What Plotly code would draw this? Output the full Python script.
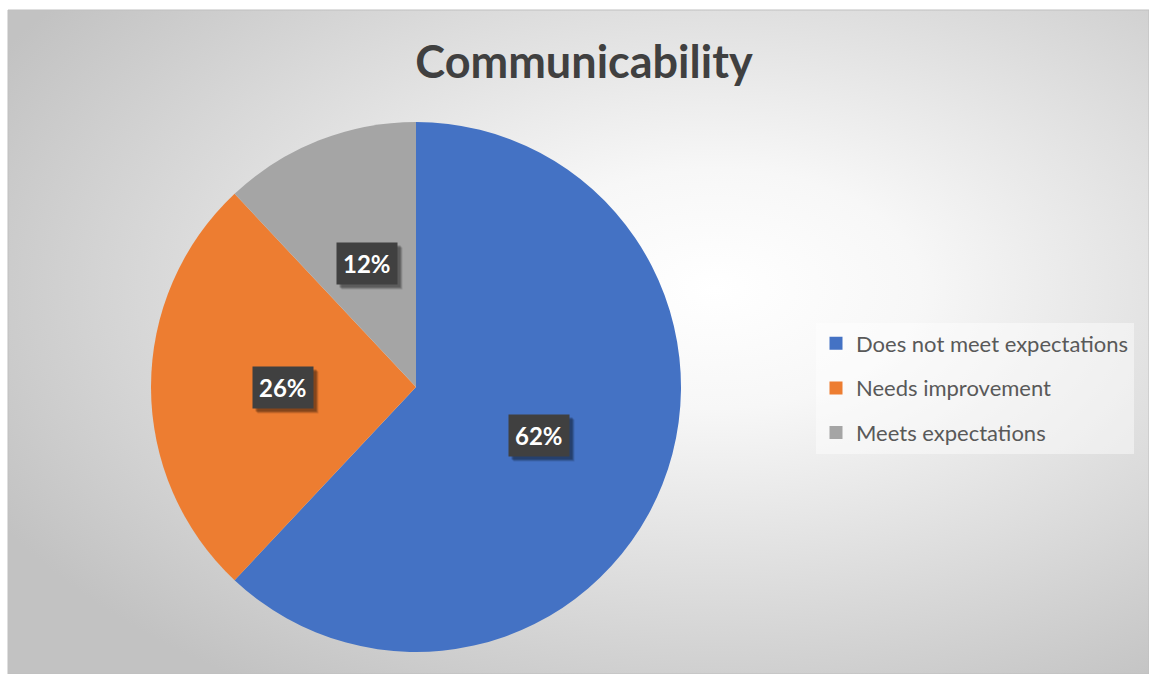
import base64
import math
import plotly.graph_objects as go

# Survey results for the "Communicability" criterion
categories = ["Does not meet expectations", "Needs improvement", "Meets expectations"]
shares = [62, 26, 12]
colors = ["#4472C4", "#ED7D31", "#A5A5A5"]
title_text = "Communicability"

W, H = 1149, 674

# Pie domain in paper coordinates
dom_x = [151 / W, 681 / W]
dom_y = [(H - 652) / H, (H - 122) / H]

fig = go.Figure()

fig.add_trace(go.Pie(
    labels=categories,
    values=shares,
    marker=dict(colors=colors, line=dict(width=0)),
    sort=False,
    direction="clockwise",
    rotation=0,
    textinfo="none",
    hoverinfo="label+percent",
    showlegend=False,
    domain=dict(x=dom_x, y=dom_y),
))

# Legend proxies, one group each so the rows can be spaced out
for i, (name, col) in enumerate(zip(categories, colors)):
    fig.add_trace(go.Scatter(
        x=[None], y=[None], mode="markers", name=name,
        legendgroup=f"g{i}",
        marker=dict(symbol="square", size=13, color=col),
        hoverinfo="skip",
    ))

# Radial background gradient for the chart area
svg = (
    '<svg xmlns="http://www.w3.org/2000/svg" width="1141" height="664" '
    'preserveAspectRatio="none">'
    '<defs><radialGradient id="g" cx="0.62" cy="0.42" r="0.72" '
    'gradientUnits="objectBoundingBox">'
    '<stop offset="0" stop-color="#ffffff"/>'
    '<stop offset="0.25" stop-color="#f7f7f7"/>'
    '<stop offset="1" stop-color="#c2c2c2"/>'
    '</radialGradient></defs>'
    '<rect width="1141" height="664" fill="url(#g)"/></svg>'
)
src = "data:image/svg+xml;base64," + base64.b64encode(svg.encode()).decode()
fig.add_layout_image(dict(
    source=src, xref="paper", yref="paper",
    x=8 / W, y=1 - 10 / H, sizex=1 - 8 / W, sizey=1 - 10 / H,
    xanchor="left", yanchor="top", sizing="stretch", layer="below",
))

# Data labels placed at half radius along each slice's mid-angle
cx = (dom_x[0] + dom_x[1]) / 2
cy = (dom_y[0] + dom_y[1]) / 2
r_px = min((dom_x[1] - dom_x[0]) * W, (dom_y[1] - dom_y[0]) * H) / 2
total = sum(shares)
start = 0.0
annotations = []
for v in shares:
    frac = v / total
    mid = (start + frac / 2) * 2 * math.pi
    start += frac
    dx = 0.5 * r_px * math.sin(mid)
    dy = 0.5 * r_px * math.cos(mid)
    ax = cx + dx / W
    ay = cy + dy / H
    label = f"{v}%"
    # soft shadow behind the box
    for off, alpha in ((5, 0.12), (4, 0.18), (3, 0.22)):
        annotations.append(dict(
            x=ax, y=ay, xref="paper", yref="paper", showarrow=False,
            xanchor="center", yanchor="middle",
            text=f"<b>{label}</b>", xshift=off, yshift=-off,
            font=dict(family="Lato", size=24, color="rgba(0,0,0,0)"),
            bgcolor=f"rgba(0,0,0,{alpha})", borderpad=6,
        ))
    annotations.append(dict(
        x=ax, y=ay, xref="paper", yref="paper", showarrow=False,
        xanchor="center", yanchor="middle",
        text=f"<b>{label}</b>",
        font=dict(family="Lato", size=24, color="#ffffff"),
        bgcolor="#404040", borderpad=6,
    ))

fig.update_layout(
    width=W, height=H,
    margin=dict(l=0, r=0, t=0, b=0),
    paper_bgcolor="#ffffff",
    plot_bgcolor="rgba(0,0,0,0)",
    xaxis=dict(visible=False, domain=[0.99, 1.0]),
    yaxis=dict(visible=False, domain=[0.99, 1.0]),
    title=dict(
        text=f"<b>{title_text}</b>",
        x=584 / W, xanchor="center", y=1 - 62 / H, yanchor="middle",
        font=dict(family="Lato", size=45, color="#404040"),
    ),
    legend=dict(
        x=816 / W, xanchor="left", y=1 - 388 / H, yanchor="middle",
        bgcolor="rgba(255,255,255,0.45)",
        font=dict(family="Lato", size=22, color="#595959"),
        tracegroupgap=13, traceorder="grouped",
        itemwidth=30,
    ),
    annotations=annotations,
    shapes=[dict(
        type="rect", xref="paper", yref="paper",
        x0=8 / W, x1=1.0, y0=0, y1=1 - 10 / H,
        line=dict(color="#bfbfbf", width=1), fillcolor="rgba(0,0,0,0)",
        layer="below",
    )],
)

fig.write_html("out.html")
